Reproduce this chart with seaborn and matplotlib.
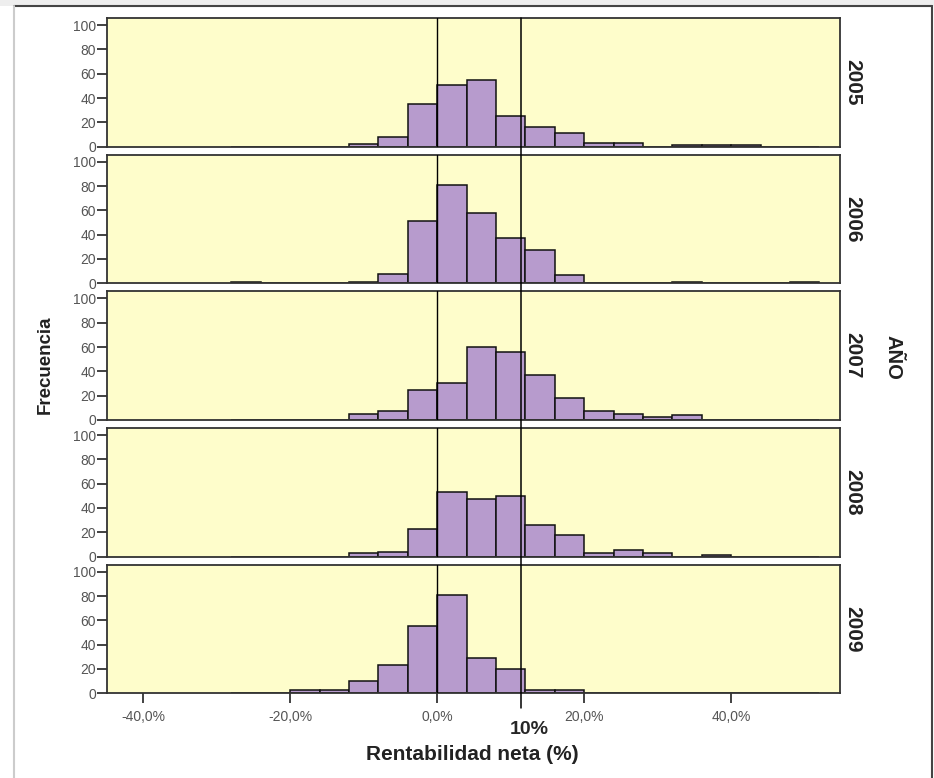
import numpy as np
import pandas as pd
import seaborn as sns
import matplotlib.pyplot as plt
from matplotlib.lines import Line2D
from matplotlib.patches import Rectangle
from matplotlib.ticker import FuncFormatter

# histogram data: 4% wide bins, left edges below
years = ["2005", "2006", "2007", "2008", "2009"]
bin_left = [-28, -24, -20, -16, -12, -8, -4, 0, 4, 8, 12, 16, 20, 24, 28, 32, 36, 40, 44, 48]
c2005 = [0, 0, 0, 0, 2, 8, 35, 51, 55, 25, 16, 11, 3, 3, 0, 1, 1, 1, 0, 0]
c2006 = [1, 0, 0, 0, 1, 8, 51, 81, 58, 37, 27, 7, 0, 0, 0, 1, 0, 0, 0, 1]
c2007 = [0, 0, 0, 0, 5, 7, 25, 30, 60, 56, 37, 18, 7, 5, 2, 4, 0, 0, 0, 0]
c2008 = [0, 0, 0, 0, 3, 4, 23, 53, 47, 50, 26, 18, 3, 5, 3, 0, 1, 0, 0, 0]
c2009 = [0, 0, 3, 3, 10, 23, 55, 81, 29, 20, 3, 3, 0, 0, 0, 0, 0, 0, 0, 0]
counts = [c2005, c2006, c2007, c2008, c2009]
x_ticks = [-40, -20, 0, 20, 40]
y_ticks = [0, 20, 40, 60, 80, 100]
ref_line = 11.4   # the "10%" marker sits here in the picture

bin_w = 4
edges = bin_left + [bin_left[-1] + bin_w]
centers = [b + bin_w / 2 for b in bin_left]

sns.set_style("ticks")
plt.rcParams['font.family'] = ['Liberation Sans', 'DejaVu Sans']

purple = "#b79bcd"
yellow = "#fefdcb"

fig, axes = plt.subplots(5, 1, figsize=(9.34, 7.78), dpi=100, sharex=True)
fig.subplots_adjust(left=0.1146, right=0.8994, top=0.977, bottom=0.109, hspace=0.062)

for i, ax in enumerate(axes):
    df = pd.DataFrame({"x": centers, "n": counts[i]})
    sns.histplot(data=df, x="x", weights="n", bins=edges, ax=ax,
                 color=purple, edgecolor="#111111", linewidth=1.1, alpha=1)
    ax.set_facecolor(yellow)
    ax.set_xlim(-44.9, 54.8)
    ax.set_ylim(0, 106)
    ax.set_yticks(y_ticks)
    ax.set_ylabel("")
    ax.set_xlabel("")
    ax.axvline(0, color="black", lw=1, zorder=3)
    for s in ax.spines.values():
        s.set_color("#333333")
        s.set_linewidth(1.3)
    ax.tick_params(axis="y", direction="out", length=7, width=1.3, color="#333333",
                   labelsize=10, labelcolor="#555555", pad=1)
    ax.tick_params(axis="x", direction="out", length=0)
    ax.text(1.005, 0.5, years[i], transform=ax.transAxes, rotation=-90,
            ha="left", va="center", fontsize=15, fontweight="bold", color="#222222")

bottom = axes[-1]
bottom.set_xticks(x_ticks)
bottom.xaxis.set_major_formatter(FuncFormatter(lambda v, p: f"{v:.1f}%".replace(".", ",")))
bottom.tick_params(axis="x", direction="out", length=7, width=1.3, color="#333333",
                   labelsize=10, labelcolor="#555555", pad=5)

fig.canvas.draw()
inv = fig.transFigure.inverted()
xf = inv.transform(axes[0].transData.transform((ref_line, 0)))[0]
ytop = axes[0].get_position().y1
fig.add_artist(Line2D([xf, xf], [1 - 708 / 778, ytop], color="black", lw=1.1, zorder=5))
fig.text(xf + 8 / 934, 1 - 729 / 778, "10%", ha="center", va="center", fontsize=14, fontweight="bold")

fig.text(0.506, 1 - 754 / 778, "Rentabilidad neta (%)", ha="center", va="center",
         fontsize=15, fontweight="bold", color="#222222")
fig.text(45 / 934, 1 - 365 / 778, "Frecuencia", rotation=90, ha="center", va="center",
         fontsize=13.5, fontweight="bold", color="#222222")
fig.text(893 / 934, 1 - 357 / 778, "AÑO", rotation=-90, ha="center", va="center",
         fontsize=14.5, fontweight="bold", color="#222222")

# outer frame of the exported chart
fig.add_artist(Rectangle((0, 1 - 6 / 778), 1, 6 / 778, transform=fig.transFigure,
                         facecolor="#eeeeee", edgecolor="none"))
fig.add_artist(Line2D([14 / 934, 932 / 934], [1 - 6 / 778, 1 - 6 / 778], color="#444444", lw=1.5))
fig.add_artist(Line2D([14 / 934, 14 / 934], [0, 1 - 6 / 778], color="#cccccc", lw=1.5))
fig.add_artist(Line2D([932 / 934, 932 / 934], [0, 1 - 6 / 778], color="#444444", lw=1.5))

plt.savefig("out.png", dpi=100)
